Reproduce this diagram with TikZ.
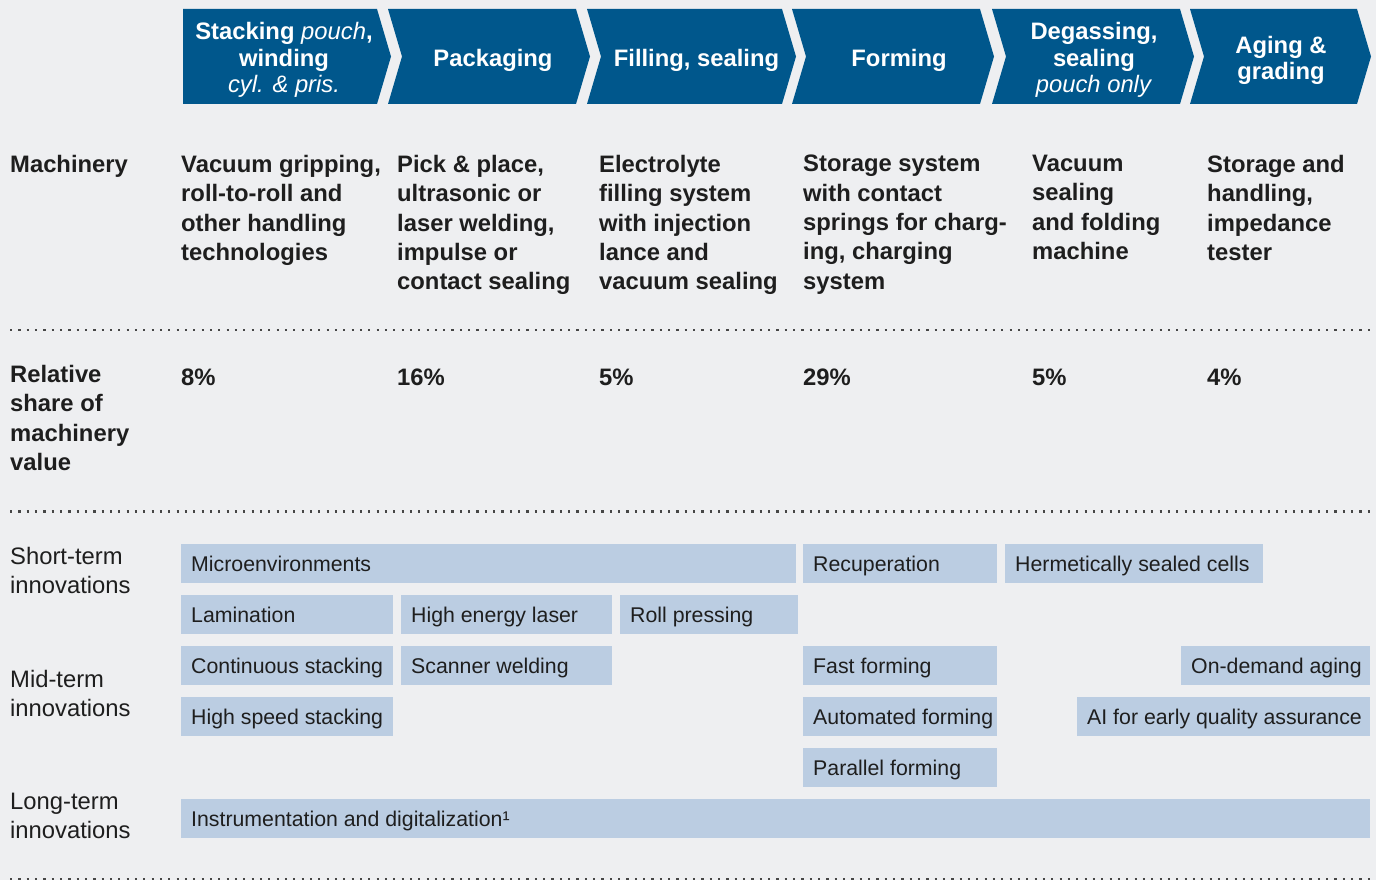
\documentclass[tikz,border=0pt]{standalone}
\usepackage{fontspec}
\setmainfont{Liberation Sans}

\definecolor{pagebg}{RGB}{238,239,241}
\definecolor{hdrblue}{RGB}{0,87,140}
\definecolor{cellblue}{RGB}{187,205,226}
\definecolor{ink}{RGB}{30,30,30}
\definecolor{sepgrey}{RGB}{70,70,70}

\tikzset{
  hdrtext/.style={text=white, align=center, inner sep=0pt,
    font=\bfseries\fontsize{23.8}{26.5}\selectfont},
  boldcell/.style={anchor=north west, inner sep=0pt, align=left, text=ink,
    font=\bfseries\fontsize{23.8}{29.3}\selectfont},
  termlabel/.style={anchor=north west, inner sep=0pt, align=left, text=ink,
    font=\fontsize{23.8}{29}\selectfont},
  ibox/.style={anchor=north west, fill=cellblue, text=ink, inner xsep=10pt,
    inner ysep=0pt, minimum height=38.5pt, text height=16.5pt, text depth=0pt,
    font=\fontsize{21.3}{25}\selectfont},
  sepline/.style={draw=sepgrey, line width=2.2pt, dash pattern=on 2.2pt off 6.13pt}
}

% innovation box: name, left x, top y, width, text
\newcommand\ibox[5]{%
  \pgfmathsetmacro\iboxtw{#4-20}%
  \node[ibox] (#1) at (#2,#3) {\makebox[\iboxtw pt][l]{#5}};%
}
% process chevron: left x, right x (notched left edge)
\newcommand\chevron[2]{%
  \fill[hdrblue] (#1,9) -- (#2,9) -- ({#2+14},56.5) -- (#2,104) -- (#1,104)
    -- ({#1+14},56.5) -- cycle;%
}

\begin{document}
\begin{tikzpicture}[x=1pt, y=-1pt]
  \fill[pagebg] (0,0) rectangle (1376,880);
  \useasboundingbox (0,0) rectangle (1376,880);

  % process chain
  \fill[hdrblue] (183,9) -- (377,9) -- (391,56.5) -- (377,104) -- (183,104) -- cycle;
  \chevron{388}{576}
  \chevron{587}{782}
  \chevron{792}{980}
  \chevron{992}{1180}
  \chevron{1190}{1357}

  \node[hdrtext] (h1) at (284,60) {Stacking \textit{\mdseries pouch},\\winding\\\textit{\mdseries cyl. \& pris.}};
  \node[hdrtext] (h2) at (493,60) {Packaging};
  \node[hdrtext] (h3) at (696.5,60) {Filling, sealing};
  \node[hdrtext] (h4) at (899,60) {Forming};
  \node[hdrtext] (h5) at (1094,60) {Degassing,\\sealing\\\textit{\mdseries pouch only}};
  \node[hdrtext] (h6) at (1281,60.5) {Aging \&\\grading};

  % machinery row
  \node[boldcell] (mlab) at (10,155) {Machinery};
  \node[boldcell] (m1) at (181,155) {Vacuum gripping,\\roll-to-roll and\\other handling\\technologies};
  \node[boldcell] (m2) at (397,155) {Pick \& place,\\ultrasonic or\\laser welding,\\impulse or\\contact sealing};
  \node[boldcell] (m3) at (599,155) {Electrolyte\\filling system\\with injection\\lance and\\vacuum sealing};
  \node[boldcell] (m4) at (803,155) {Storage system\\with contact\\springs for charg-\\ing, charging\\system};
  \node[boldcell] (m5) at (1032,155) {Vacuum\\sealing\\and folding\\machine};
  \node[boldcell] (m6) at (1207,155) {Storage and\\handling,\\impedance\\tester};

  \coordinate (s1a) at (10,330);
  \coordinate (s1b) at (1372,330);
  \draw[sepline] (s1a) -- (s1b);

  % share of machinery value
  \node[boldcell] (vlab) at (10,365) {Relative\\share of\\machinery\\value};
  \node[boldcell] (v1) at (181,369) {8\%};
  \node[boldcell] (v2) at (397,369) {16\%};
  \node[boldcell] (v3) at (599,369) {5\%};
  \node[boldcell] (v4) at (803,369) {29\%};
  \node[boldcell] (v5) at (1032,369) {5\%};
  \node[boldcell] (v6) at (1207,369) {4\%};

  \coordinate (s2a) at (10,511.5);
  \coordinate (s2b) at (1372,511.5);
  \draw[sepline] (s2a) -- (s2b);

  % innovation horizons
  \node[termlabel] (tshort) at (10,547) {Short-term\\innovations};
  \node[termlabel] (tmid) at (10,670) {Mid-term\\innovations};
  \node[termlabel] (tlong) at (10,793) {Long-term\\innovations};

  \ibox{micro}{181}{544}{615}{Microenvironments}
  \ibox{recup}{803}{544}{194}{Recuperation}
  \ibox{herm}{1005}{544}{258}{Hermetically sealed cells}
  \ibox{lamin}{181}{595}{212}{Lamination}
  \ibox{laser}{401}{595}{211}{High energy laser}
  \ibox{roll}{620}{595}{178}{Roll pressing}
  \ibox{contst}{181}{646}{212}{Continuous stacking}
  \ibox{scan}{401}{646}{211}{Scanner welding}
  \ibox{fastf}{803}{646}{194}{Fast forming}
  \ibox{ondem}{1181}{646}{189}{On-demand aging}
  \ibox{hsst}{181}{697}{212}{High speed stacking}
  \ibox{autof}{803}{697}{194}{Automated forming}
  \ibox{aiqa}{1077}{697}{293}{AI for early quality assurance}
  \ibox{parf}{803}{748}{194}{Parallel forming}
  \ibox{instr}{181}{799}{1189}{Instrumentation and digitalization¹}

  \coordinate (s3a) at (10,879.5);
  \coordinate (s3b) at (1372,879.5);
  \draw[sepline] (s3a) -- (s3b);
\end{tikzpicture}
\end{document}
